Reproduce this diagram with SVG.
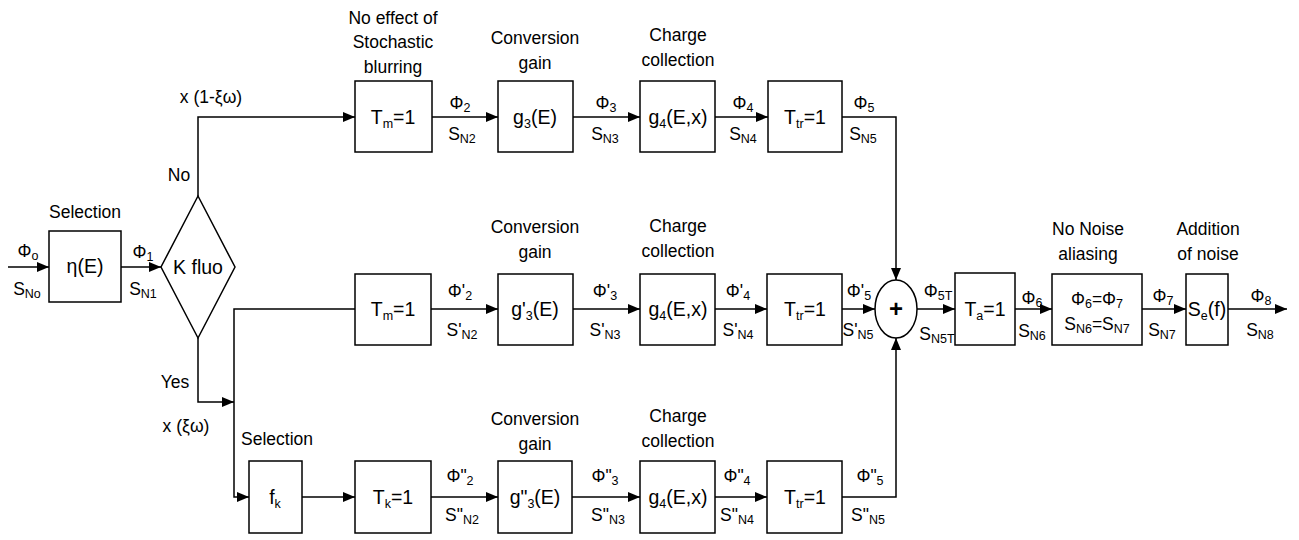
<svg xmlns="http://www.w3.org/2000/svg" width="1299" height="540" viewBox="0 0 1299 540">
<defs>
<marker id="ah" markerWidth="12" markerHeight="10" refX="12" refY="5" orient="auto" markerUnits="userSpaceOnUse"><path d="M0,0 L12,5 L0,10 Z" fill="#000"/></marker>
<style>
text{font-family:"Liberation Sans",Arial,sans-serif;font-size:17.5px;fill:#000;text-anchor:middle}
.b{font-size:19.5px}
.s{font-size:12.5px}
.n{fill:#fff;stroke:#000;stroke-width:1.5}
.c{fill:none;stroke:#000;stroke-width:1.5}
</style>
</defs>
<rect width="1299" height="540" fill="#fff"/>

<g id="connectors">
<path class="c" d="M8,267 H49" marker-end="url(#ah)"/>
<path class="c" d="M121,267 H161" marker-end="url(#ah)"/>
<path class="c" d="M198,196 V117 H355" marker-end="url(#ah)"/>
<path class="c" d="M198,338 V402 H234" marker-end="url(#ah)"/>
<path class="c" d="M355,309 H234 V497 H249" marker-end="url(#ah)"/>
<path class="c" d="M432,117 H498" marker-end="url(#ah)"/>
<path class="c" d="M573,117 H640" marker-end="url(#ah)"/>
<path class="c" d="M715,117 H768" marker-end="url(#ah)"/>
<path class="c" d="M842,117 H896 V280" marker-end="url(#ah)"/>
<path class="c" d="M431,309 H498" marker-end="url(#ah)"/>
<path class="c" d="M573,309 H640" marker-end="url(#ah)"/>
<path class="c" d="M715,309 H767" marker-end="url(#ah)"/>
<path class="c" d="M842,309 H875" marker-end="url(#ah)"/>
<path class="c" d="M302,497 H355" marker-end="url(#ah)"/>
<path class="c" d="M431,497 H498" marker-end="url(#ah)"/>
<path class="c" d="M572,497 H640" marker-end="url(#ah)"/>
<path class="c" d="M715,497 H767" marker-end="url(#ah)"/>
<path class="c" d="M842,497 H896 V338" marker-end="url(#ah)"/>
<path class="c" d="M917,309 H955" marker-end="url(#ah)"/>
<path class="c" d="M1015,309 H1052" marker-end="url(#ah)"/>
<path class="c" d="M1142,309 H1186" marker-end="url(#ah)"/>
<path class="c" d="M1228,309 H1287" marker-end="url(#ah)"/>
</g>

<g id="labels">
<text x="28" y="257">Φ<tspan class="s" dy="3">o</tspan></text>
<text x="27" y="295">S<tspan class="s" dy="3">No</tspan></text>
<text x="143" y="258">Φ<tspan class="s" dy="3">1</tspan></text>
<text x="143" y="295">S<tspan class="s" dy="3">N1</tspan></text>
<text x="211" y="103">x (1-ξω)</text>
<text x="179" y="181">No</text>
<text x="175" y="388">Yes</text>
<text x="186" y="432">x (ξω)</text>
<text x="277" y="445">Selection</text>

<text x="460" y="109">Φ<tspan class="s" dy="3">2</tspan></text>
<text x="462" y="140">S<tspan class="s" dy="3">N2</tspan></text>
<text x="606" y="109">Φ<tspan class="s" dy="3">3</tspan></text>
<text x="605" y="140">S<tspan class="s" dy="3">N3</tspan></text>
<text x="743" y="109">Φ<tspan class="s" dy="3">4</tspan></text>
<text x="743" y="140">S<tspan class="s" dy="3">N4</tspan></text>
<text x="864" y="109">Φ<tspan class="s" dy="3">5</tspan></text>
<text x="863" y="140">S<tspan class="s" dy="3">N5</tspan></text>

<text x="460" y="297">Φ'<tspan class="s" dy="3">2</tspan></text>
<text x="462" y="336">S'<tspan class="s" dy="3">N2</tspan></text>
<text x="605" y="297">Φ'<tspan class="s" dy="3">3</tspan></text>
<text x="605" y="336">S'<tspan class="s" dy="3">N3</tspan></text>
<text x="738" y="297">Φ'<tspan class="s" dy="3">4</tspan></text>
<text x="738" y="336">S'<tspan class="s" dy="3">N4</tspan></text>
<text x="859" y="297">Φ'<tspan class="s" dy="3">5</tspan></text>
<text x="858" y="336">S'<tspan class="s" dy="3">N5</tspan></text>

<text x="460" y="482">Φ"<tspan class="s" dy="3">2</tspan></text>
<text x="462" y="521">S"<tspan class="s" dy="3">N2</tspan></text>
<text x="605" y="482">Φ"<tspan class="s" dy="3">3</tspan></text>
<text x="608" y="521">S"<tspan class="s" dy="3">N3</tspan></text>
<text x="737" y="482">Φ"<tspan class="s" dy="3">4</tspan></text>
<text x="737" y="521">S"<tspan class="s" dy="3">N4</tspan></text>
<text x="870" y="482">Φ"<tspan class="s" dy="3">5</tspan></text>
<text x="868" y="521">S"<tspan class="s" dy="3">N5</tspan></text>

<text x="938" y="297">Φ<tspan class="s" dy="3">5T</tspan></text>
<text x="937" y="340">S<tspan class="s" dy="3">N5T</tspan></text>
<text x="1032" y="304">Φ<tspan class="s" dy="3">6</tspan></text>
<text x="1032" y="337">S<tspan class="s" dy="3">N6</tspan></text>
<text x="1163" y="302">Φ<tspan class="s" dy="3">7</tspan></text>
<text x="1162" y="336">S<tspan class="s" dy="3">N7</tspan></text>
<text x="1261" y="302">Φ<tspan class="s" dy="3">8</tspan></text>
<text x="1260" y="336">S<tspan class="s" dy="3">N8</tspan></text>
</g>

<g id="n-selection">
<text x="85" y="218">Selection</text>
<rect class="n" x="49" y="231" width="72" height="71"/>
<text class="b" x="85" y="273">η(E)</text>
</g>
<g id="n-kfluo">
<polygon class="n" points="198,196 235,267 198,338 161,267"/>
<text class="b" x="198" y="274">K fluo</text>
</g>

<g id="n-tm-top">
<text x="393" y="24">No effect of</text>
<text x="393" y="48">Stochastic</text>
<text x="393" y="73">blurring</text>
<rect class="n" x="355" y="81" width="77" height="71"/>
<text class="b" x="393" y="124">T<tspan class="s" dy="4">m</tspan><tspan dy="-4">=1</tspan></text>
</g>
<g id="n-g3-top">
<text x="535" y="44">Conversion</text>
<text x="535" y="69">gain</text>
<rect class="n" x="498" y="81" width="75" height="71"/>
<text class="b" x="535" y="124">g<tspan class="s" dy="4">3</tspan><tspan dy="-4">(E)</tspan></text>
</g>
<g id="n-g4-top">
<text x="678" y="41">Charge</text>
<text x="678" y="66">collection</text>
<rect class="n" x="640" y="81" width="75" height="71"/>
<text class="b" x="678" y="124">g<tspan class="s" dy="4">4</tspan><tspan dy="-4">(E,x)</tspan></text>
</g>
<g id="n-ttr-top">
<rect class="n" x="768" y="81" width="74" height="71"/>
<text class="b" x="805" y="124">T<tspan class="s" dy="4">tr</tspan><tspan dy="-4">=1</tspan></text>
</g>

<g id="n-tm-mid">
<rect class="n" x="355" y="274" width="76" height="71"/>
<text class="b" x="393" y="316">T<tspan class="s" dy="4">m</tspan><tspan dy="-4">=1</tspan></text>
</g>
<g id="n-g3-mid">
<text x="535" y="233">Conversion</text>
<text x="535" y="258">gain</text>
<rect class="n" x="498" y="274" width="75" height="71"/>
<text class="b" x="535" y="316">g'<tspan class="s" dy="4">3</tspan><tspan dy="-4">(E)</tspan></text>
</g>
<g id="n-g4-mid">
<text x="678" y="232">Charge</text>
<text x="678" y="257">collection</text>
<rect class="n" x="640" y="274" width="75" height="71"/>
<text class="b" x="678" y="316">g<tspan class="s" dy="4">4</tspan><tspan dy="-4">(E,x)</tspan></text>
</g>
<g id="n-ttr-mid">
<rect class="n" x="767" y="274" width="75" height="71"/>
<text class="b" x="805" y="316">T<tspan class="s" dy="4">tr</tspan><tspan dy="-4">=1</tspan></text>
</g>

<g id="n-fk">
<rect class="n" x="249" y="461" width="53" height="72"/>
<text class="b" x="275" y="504">f<tspan class="s" dy="4">k</tspan></text>
</g>
<g id="n-tk">
<rect class="n" x="355" y="461" width="76" height="72"/>
<text class="b" x="393" y="504">T<tspan class="s" dy="4">k</tspan><tspan dy="-4">=1</tspan></text>
</g>
<g id="n-g3-bot">
<text x="535" y="425">Conversion</text>
<text x="535" y="450">gain</text>
<rect class="n" x="498" y="461" width="74" height="72"/>
<text class="b" x="535" y="504">g"<tspan class="s" dy="4">3</tspan><tspan dy="-4">(E)</tspan></text>
</g>
<g id="n-g4-bot">
<text x="678" y="422">Charge</text>
<text x="678" y="447">collection</text>
<rect class="n" x="640" y="461" width="75" height="72"/>
<text class="b" x="678" y="504">g<tspan class="s" dy="4">4</tspan><tspan dy="-4">(E,x)</tspan></text>
</g>
<g id="n-ttr-bot">
<rect class="n" x="767" y="461" width="75" height="72"/>
<text class="b" x="805" y="504">T<tspan class="s" dy="4">tr</tspan><tspan dy="-4">=1</tspan></text>
</g>

<g id="n-sum">
<ellipse class="n" cx="896" cy="309" rx="21" ry="29"/>
<text x="896" y="317" style="font-size:24px;font-weight:bold">+</text>
</g>
<g id="n-ta">
<rect class="n" x="955" y="273" width="60" height="72"/>
<text class="b" x="985" y="316">T<tspan class="s" dy="4">a</tspan><tspan dy="-4">=1</tspan></text>
</g>
<g id="n-noalias">
<text x="1088" y="235">No Noise</text>
<text x="1088" y="260">aliasing</text>
<rect class="n" x="1052" y="274" width="90" height="71"/>
<text x="1097" y="305">Φ<tspan class="s" dy="3">6</tspan><tspan dy="-3">=Φ</tspan><tspan class="s" dy="3">7</tspan></text>
<text x="1097" y="330">S<tspan class="s" dy="3">N6</tspan><tspan dy="-3">=S</tspan><tspan class="s" dy="3">N7</tspan></text>
</g>
<g id="n-noise">
<text x="1208" y="235">Addition</text>
<text x="1208" y="260">of noise</text>
<rect class="n" x="1186" y="274" width="42" height="71"/>
<text class="b" x="1207" y="316">S<tspan class="s" dy="4">e</tspan><tspan dy="-4">(f)</tspan></text>
</g>
</svg>
